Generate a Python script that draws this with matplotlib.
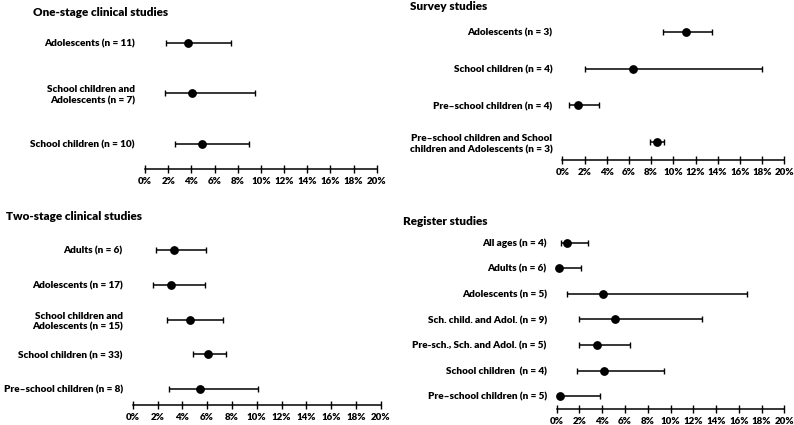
import matplotlib
matplotlib.use('Agg')
import matplotlib.pyplot as plt

plt.rcParams['font.family'] = ['Lato', 'DejaVu Sans']
plt.rcParams['font.weight'] = 'heavy'

W, H = 794, 425
fig = plt.figure(figsize=(W / 100, H / 100), dpi=100)

ticks = [0, 2, 4, 6, 8, 10, 12, 14, 16, 18, 20]
tick_labels = [f'{t}%' for t in ticks]

# One-stage clinical studies
one_labels = ['Adolescents (n = 11)', 'School children and\nAdolescents (n = 7)', 'School children (n = 10)']
one_est = [3.7, 4.1, 4.9]
one_lo = [1.8, 1.7, 2.6]
one_hi = [7.4, 9.5, 9.0]

# Survey studies
sur_labels = ['Adolescents (n = 3)', 'School children (n = 4)', 'Pre\u2013school children (n = 4)',
              'Pre\u2013school children and School\nchildren and Adolescents (n = 3)']
sur_est = [11.1, 6.4, 1.4, 8.5]
sur_lo = [9.1, 2.05, 0.6, 7.9]
sur_hi = [13.5, 18.0, 3.3, 9.15]

# Two-stage clinical studies
two_labels = ['Adults (n = 6)', 'Adolescents (n = 17)', 'School children and\nAdolescents (n = 15)',
              'School children (n = 33)', 'Pre\u2013school children (n = 8)']
two_est = [3.3, 3.1, 4.6, 6.1, 5.45]
two_lo = [1.9, 1.6, 2.8, 4.9, 2.9]
two_hi = [5.9, 5.8, 7.3, 7.5, 10.1]

# Register studies
reg_labels = ['All ages (n = 4)', 'Adults (n = 6)', 'Adolescents (n = 5)', 'Sch. child. and Adol. (n = 9)',
              'Pre-sch., Sch. and Adol. (n = 5)', 'School children  (n = 4)', 'Pre\u2013school children (n = 5)']
reg_est = [0.9, 0.2, 4.1, 5.1, 3.5, 4.2, 0.3]
reg_lo = [0.35, 0.1, 0.9, 1.95, 1.95, 1.8, 0.1]
reg_hi = [2.75, 2.1, 16.75, 12.8, 6.4, 9.4, 3.8]

titles = ['One-stage clinical studies', 'Survey studies', 'Two-stage clinical studies', 'Register studies']


def px_axes(x0, x1, ytop, ybot):
    return fig.add_axes([x0 / W, 1 - ybot / H, (x1 - x0) / W, (ybot - ytop) / H])


def panel(ax, labels, est, lo, hi, ybottom):
    n = len(labels)
    ys = list(range(n))
    xerr = [[e - l for e, l in zip(est, lo)], [h - e for e, h in zip(est, hi)]]
    ax.errorbar(est, ys, xerr=xerr, fmt='o', color='black', ms=5.3,
                capsize=2.3, elinewidth=1.1, capthick=1.0, zorder=3)
    for art in ax.get_children():
        try:
            art.set_clip_on(False)
        except Exception:
            pass
    ax.set_ylim(ybottom, -0.5)
    ax.set_xlim(0, 20)
    ax.set_xticks(ticks)
    ax.set_xticklabels(tick_labels)
    ax.set_yticks(ys)
    ax.set_yticklabels(labels, linespacing=1.3)
    for s in ['top', 'right', 'left']:
        ax.spines[s].set_visible(False)
    ax.spines['bottom'].set_linewidth(1.1)
    ax.tick_params(axis='y', length=0, pad=7.2, labelsize=7.2)
    ax.tick_params(axis='x', direction='inout', length=5.5, width=1.0, labelsize=7, pad=3)
    ax.patch.set_alpha(0)


ax1 = px_axes(145, 376.7, 17.75, 169)
panel(ax1, one_labels, one_est, one_lo, one_hi, 2.5)
ax2 = px_axes(562.3, 784.3, 13.3, 160)
panel(ax2, sur_labels, sur_est, sur_lo, sur_hi, 3.48)
ax3 = px_axes(132.7, 380.7, 233, 404.7)
panel(ax3, two_labels, two_est, two_lo, two_hi, 4.45)
ax4 = px_axes(556.7, 784.3, 229.9, 409)
panel(ax4, reg_labels, reg_est, reg_lo, reg_hi, 6.5)

title_pos = [(33, 12.7), (410, 6.7), (6, 216.7), (403.3, 221.7)]
for t, (x, y) in zip(titles, title_pos):
    fig.text(x / W, 1 - y / H, t, ha='left', va='center', fontsize=8.5, fontweight='heavy')

fig.savefig('out.png', dpi=100)
